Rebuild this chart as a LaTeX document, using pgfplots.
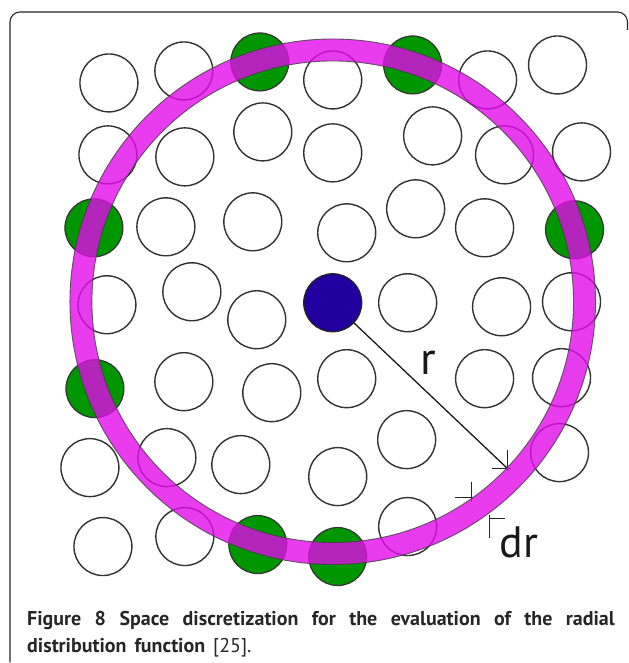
\documentclass[border=0pt]{standalone}
\usepackage{pgfplots}
\pgfplotsset{compat=1.18}
\usepackage{fontspec}
\setmainfont{PT Sans}
\definecolor{ringmag}{RGB}{226,11,234}
\definecolor{atomgreen}{RGB}{0,150,0}
\definecolor{atomblue}{RGB}{34,0,160}
\definecolor{outl}{RGB}{50,50,50}
\begin{document}
\begin{tikzpicture}
\begin{axis}[x=1pt, y=1pt, xmin=0, xmax=629, ymin=0, ymax=663, y dir=reverse,
  hide axis, clip=false, scale only axis]
% bounding box
\addplot[draw=none, forget plot] coordinates {(0,0) (629,663)};
% frame
\addplot[black!85, line width=1.1pt, rounded corners=10pt, mark=none] coordinates {(10,663) (10,12) (628,12) (628,30)};
% white particles
\addplot[only marks, mark=*, mark size=29pt, mark options={fill=white, draw=outl, line width=1.4pt}] coordinates {
(109,83) (184,71) (333,80) (488,80) (558,65)
(108,155) (185,157) (263,132) (333,153) (433,136) (505,155) (582,152)
(166,227) (253,222) (347,233) (416,209) (485,228)
(107,305) (192,292) (257,320) (408,303) (502,307) (572,302)
(184,382) (272,393) (347,379) (485,379) (562,378)
(90,468) (167,458) (241,465) (338,477) (407,440) (560,453)
(103,547) (185,537) (408,527)
};
% green particles (in the shell)
\addplot[only marks, mark=*, mark size=29pt, mark options={fill=atomgreen, draw=black!80, line width=1.2pt}] coordinates {
(260,62) (413,65) (94,228) (575,230) (95,389) (258,545) (338,557)
};
% shell r..r+dr
\addplot[only marks, mark=o, mark size=252pt, mark options={draw=ringmag, draw opacity=0.8, line width=22pt}] coordinates {(333,302)};
\addplot[only marks, mark=o, mark size=263pt, mark options={draw=black!75, draw opacity=0.8, line width=0.9pt}] coordinates {(333,302)};
\addplot[only marks, mark=o, mark size=241pt, mark options={draw=black!75, draw opacity=0.8, line width=0.9pt}] coordinates {(333,302)};
% central particle
\addplot[only marks, mark=*, mark size=29pt, mark options={fill=atomblue, draw=black!85, line width=1.3pt}] coordinates {(333,303)};
% radius line
\addplot[black!90, line width=1.3pt, mark=none] coordinates {(333,303) (508,469)};
% dr markers
\addplot[black!85, line width=1.2pt, mark=none] coordinates {(508,450) (508,471)};
\addplot[black!85, line width=1.2pt, mark=none] coordinates {(492,469) (511,469)};
\addplot[black!85, line width=1.2pt, mark=none] coordinates {(472,482) (472,502)};
\addplot[black!85, line width=1.2pt, mark=none] coordinates {(455,498) (473,498)};
\addplot[black!85, line width=1.2pt, mark=none] coordinates {(490,515) (490,538)};
\addplot[black!85, line width=1.2pt, mark=none] coordinates {(490,519) (505,519)};
% labels
\node[anchor=base west, inner sep=0pt, text=black!90] at (axis cs:421,375) {\fontsize{46}{50}\selectfont r};
\node[anchor=base west, inner sep=0pt, text=black!90] at (axis cs:500,558) {\fontsize{44}{48}\selectfont dr};
% caption
\node[anchor=base west, inner sep=0pt, text=black!85] at (axis cs:27,626)
  {\fontsize{20}{24}\selectfont\bfseries\makebox[588pt][s]{Figure 8 Space discretization for the evaluation of the radial}};
\node[anchor=base west, inner sep=0pt, text=black!85] at (axis cs:27,653)
  {\fontsize{20}{24}\selectfont{\bfseries distribution\hspace{8pt}function}\hspace{8pt}{\mdseries [25].}};
\end{axis}
\end{tikzpicture}
\end{document}
